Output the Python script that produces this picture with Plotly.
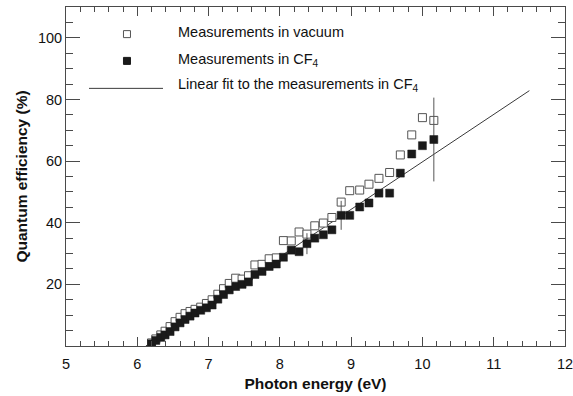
import plotly.graph_objects as go

# Photon energies (eV) of the measurements
energy = [6.20, 6.26, 6.33, 6.39, 6.46, 6.53, 6.60, 6.67, 6.74, 6.81,
          6.89, 6.97, 7.05, 7.13, 7.21, 7.29, 7.38, 7.47, 7.56, 7.65,
          7.75, 7.85, 7.95, 8.05, 8.16, 8.27, 8.38, 8.49, 8.61, 8.73,
          8.86, 8.98, 9.12, 9.25, 9.39, 9.54, 9.69, 9.85, 10.00, 10.16]

qe_vacuum = [1.0, 2.3, 3.6, 4.8, 6.3, 7.9, 9.3, 10.5, 11.2, 11.9,
             12.6, 13.8, 15.0, 16.8, 18.6, 20.3, 22.0, 21.7, 22.8, 26.3,
             26.5, 28.3, 28.6, 34.2, 34.1, 37.0, 36.3, 39.0, 39.9, 41.7,
             46.7, 50.4, 50.6, 52.5, 54.4, 56.3, 62.0, 68.5, 74.1, 73.2]

qe_cf4 = [0.7, 1.8, 2.8, 3.6, 4.7, 6.2, 7.5, 8.6, 9.7, 10.7,
          11.6, 12.4, 13.3, 15.2, 16.7, 18.2, 19.3, 20.0, 20.8, 23.2,
          24.2, 25.8, 26.6, 28.8, 31.1, 30.6, 33.2, 35.0, 36.1, 37.7,
          42.4, 42.4, 45.1, 46.4, 49.6, 49.6, 56.1, 62.3, 65.0, 67.0]

cf4_err = [0, 0, 0, 0, 0, 0, 0, 0, 0, 0,
           0, 0, 0, 0, 0, 0, 0, 0, 0, 0,
           0, 0, 0, 0, 0, 0, 3.4, 0, 0, 0,
           4.7, 0, 0, 0, 0, 0, 0, 0, 0, 13.6]

# Linear fit to CF4 measurements: QE = slope * (E - E0)
fit_slope = 15.4
fit_e0 = 6.12
fit_x = [6.12, 11.5]
fit_y = [fit_slope * (e - fit_e0) for e in fit_x]

legend_labels = ["Measurements in vacuum",
                 "Measurements in CF<sub>4</sub>",
                 "Linear fit to the measurements in CF<sub>4</sub>"]

x_ticks = [5, 6, 7, 8, 9, 10, 11, 12]
y_ticks = [20, 40, 60, 80, 100]

axis_col = "#4a4a4a"
text_col = "#111111"
font_family = "Liberation Sans, Arial, Helvetica, sans-serif"

fig = go.Figure()

fig.add_trace(go.Scatter(
    x=fit_x, y=fit_y, mode="lines",
    line=dict(color="#3a3a3a", width=1), showlegend=False, hoverinfo="skip"))

fig.add_trace(go.Scatter(
    x=energy, y=qe_vacuum, mode="markers",
    marker=dict(symbol="square", size=8, color="white",
                line=dict(color="#555555", width=1)),
    showlegend=False))

fig.add_trace(go.Scatter(
    x=energy, y=qe_cf4, mode="markers",
    marker=dict(symbol="square", size=8, color="#1a1a1a",
                line=dict(color="#1a1a1a", width=0.5)),
    error_y=dict(type="data", array=cf4_err, visible=True,
                 color="#555555", thickness=1, width=0),
    showlegend=False))

# Custom legend (paper coordinates of plot area)
leg_x_sym = 0.1222
leg_x_text = 0.2204
leg_y = [0.925, 0.843, 0.770]

fig.add_shape(type="rect", xref="paper", yref="paper",
              xsizemode="pixel", ysizemode="pixel",
              xanchor=leg_x_sym, yanchor=0.920,
              x0=-3.5, x1=3.5, y0=-3.5, y1=3.5,
              line=dict(color="#555555", width=1), fillcolor="white")
fig.add_shape(type="rect", xref="paper", yref="paper",
              xsizemode="pixel", ysizemode="pixel",
              xanchor=leg_x_sym, yanchor=0.841,
              x0=-3.5, x1=3.5, y0=-3.5, y1=3.5,
              line=dict(color="#1a1a1a", width=1), fillcolor="#1a1a1a")
fig.add_shape(type="line", xref="paper", yref="paper",
              x0=0.0461, x1=0.1944, y0=0.760, y1=0.760,
              line=dict(color="#3a3a3a", width=1))

for lbl, yy in zip(legend_labels, leg_y):
    fig.add_annotation(xref="paper", yref="paper", x=leg_x_text, y=yy,
                       text=lbl, showarrow=False, xanchor="left", yanchor="middle",
                       font=dict(size=14.5, color=text_col, family=font_family))

common_axis = dict(showline=True, linecolor=axis_col, linewidth=1, mirror="ticks",
                   ticks="inside", tickcolor=axis_col, tickwidth=1,
                   showgrid=False, zeroline=False, ticklabeloverflow="allow",
                   automargin=False,
                   tickfont=dict(size=14.5, color=text_col, family=font_family))

fig.update_xaxes(range=[5, 12], tickmode="array", tickvals=x_ticks, ticklen=9,
                 ticklabelstandoff=5,
                 minor=dict(ticks="inside", ticklen=5, tickmode="linear", tick0=5, dtick=0.2,
                            tickcolor=axis_col, showgrid=False),
                 title=dict(text="<b>Photon energy (eV)</b>", standoff=6,
                            font=dict(size=15.5, color=text_col, family=font_family)),
                 **common_axis)
fig.update_yaxes(range=[0, 110], tickmode="array", tickvals=y_ticks, ticklen=14,
                 minor=dict(ticks="inside", ticklen=7, tickmode="linear", tick0=0, dtick=5,
                            tickcolor=axis_col, showgrid=False),
                 title=dict(text="<b>Quantum efficiency (%)</b>", standoff=6,
                            font=dict(size=15.5, color=text_col, family=font_family)),
                 **common_axis)

fig.update_layout(width=573, height=396,
                  margin=dict(l=66, r=8, t=7, b=50),
                  paper_bgcolor="white", plot_bgcolor="white",
                  font=dict(family=font_family, color=text_col))

fig.write_html("out.html")
